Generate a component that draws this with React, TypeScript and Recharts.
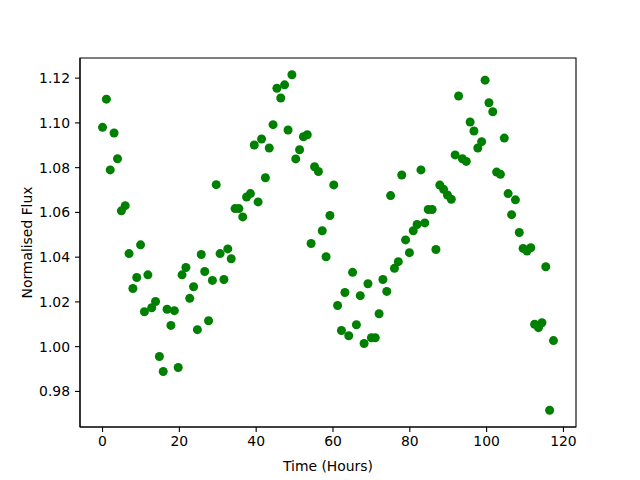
import { ReferenceArea, Scatter, ScatterChart, XAxis, YAxis, Label } from "recharts";

// time of each sample, hours
const HOURS = [
  0, 1.0, 2.0, 3.0, 3.9, 4.9, 5.9, 6.9, 7.9, 8.9, 9.9, 10.9, 11.8, 12.8, 13.8, 14.8,
  15.8, 16.8, 17.8, 18.7, 19.7, 20.7, 21.7, 22.7, 23.7, 24.7, 25.7, 26.6, 27.6, 28.6,
  29.6, 30.6, 31.6, 32.6, 33.5, 34.5, 35.5, 36.5, 37.5, 38.5, 39.5, 40.5, 41.4, 42.4,
  43.4, 44.4, 45.4, 46.4, 47.4, 48.3, 49.3, 50.3, 51.3, 52.3, 53.3, 54.3, 55.2, 56.2,
  57.2, 58.2, 59.2, 60.2, 61.2, 62.2, 63.1, 64.1, 65.1, 66.1, 67.1, 68.1, 69.1, 70.0,
  71.0, 72.0, 73.0, 74.0, 75.0, 76.0, 77.0, 77.9, 78.9, 79.9, 80.9, 81.9, 82.9, 83.9,
  84.8, 85.8, 86.8, 87.8, 88.8, 89.8, 90.8, 91.8, 92.7, 93.7, 94.7, 95.7, 96.7, 97.7,
  98.7, 99.6, 100.6, 101.6, 102.6, 103.6, 104.6, 105.6, 106.5, 107.5, 108.5, 109.5,
  110.5, 111.5, 112.5, 113.5, 114.4, 115.4, 116.4, 117.4,
];

const FLUX = [
  1.098, 1.1106, 1.079, 1.0955, 1.084, 1.0607, 1.063, 1.0416, 1.026, 1.0309, 1.0455,
  1.0156, 1.0321, 1.0174, 1.0202, 0.9956, 0.9889, 1.0167, 1.0095, 1.0161, 0.9907,
  1.0321, 1.0354, 1.0216, 1.0268, 1.0076, 1.0412, 1.0336, 1.0116, 1.0296, 1.0724,
  1.0416, 1.03, 1.0437, 1.0393, 1.0617, 1.0617, 1.058, 1.0669, 1.0684, 1.0901, 1.0647,
  1.0928, 1.0755, 1.0888, 1.0992, 1.1155, 1.1111, 1.117, 1.0968, 1.1215, 1.0839, 1.088,
  1.0938, 1.0947, 1.0461, 1.0804, 1.0783, 1.0518, 1.0402, 1.0586, 1.0723, 1.0184,
  1.0072, 1.0242, 1.0049, 1.0332, 1.0098, 1.0228, 1.0014, 1.0281, 1.004, 1.004, 1.0147,
  1.03, 1.0247, 1.0675, 1.035, 1.038, 1.0767, 1.0477, 1.042, 1.0518, 1.0546, 1.079,
  1.0553, 1.0613, 1.0613, 1.0434, 1.0722, 1.0703, 1.0678, 1.0659, 1.0857, 1.112, 1.084,
  1.0828, 1.1004, 1.0964, 1.0888, 1.0916, 1.1191, 1.109, 1.105, 1.078, 1.077, 1.0932,
  1.0684, 1.059, 1.0656, 1.051, 1.0439, 1.0427, 1.0442, 1.01, 1.0085, 1.0107, 1.0357,
  0.9716, 1.0027,
];

const X_TICKS = [0, 20, 40, 60, 80, 100, 120];
const Y_TICKS = [0.98, 1.0, 1.02, 1.04, 1.06, 1.08, 1.1, 1.12];

const X_DOMAIN: [number, number] = [-5.87, 123.27];
const Y_DOMAIN: [number, number] = [0.9641, 1.129];

const FONT = "'DejaVu Sans', sans-serif";
const TICK_STYLE = { fill: "#000", fontSize: 13.9, fontFamily: FONT };

const data = HOURS.map((t, i) => ({ t, flux: FLUX[i] }));

function Dot(props: any) {
  return <circle cx={props.cx} cy={props.cy} r={4.5} fill="#008000" />;
}

export default function App() {
  return (
    <div style={{ position: "absolute", left: 0, top: 0, width: 640, height: 480, background: "#fff" }}>
      <ScatterChart width={640} height={480} margin={{ top: 58, right: 64, bottom: 9, left: 0 }}>
        <XAxis
          type="number"
          dataKey="t"
          domain={X_DOMAIN}
          ticks={X_TICKS}
          allowDataOverflow
          height={44}
          tick={TICK_STYLE}
          tickSize={5}
          tickMargin={4}
          stroke="#000"
          axisLine={{ stroke: "#000", strokeWidth: 1.1 }}
          tickLine={{ stroke: "#000", strokeWidth: 1.1 }}
        >
          <Label value="Time (Hours)" position="insideBottom" offset={0} style={{ fill: "#000", fontSize: 13.9, fontFamily: FONT }} />
        </XAxis>
        <YAxis
          type="number"
          dataKey="flux"
          domain={Y_DOMAIN}
          ticks={Y_TICKS}
          allowDataOverflow
          width={80}
          tick={TICK_STYLE}
          tickFormatter={(v: number) => v.toFixed(2)}
          tickSize={5}
          tickMargin={5}
          stroke="#000"
          axisLine={{ stroke: "#000", strokeWidth: 1.1 }}
          tickLine={{ stroke: "#000", strokeWidth: 1.1 }}
        >
          <Label
            content={({ viewBox }: any) => {
              const cx = viewBox.x + 27;
              const cy = viewBox.y + viewBox.height / 2;
              return (
                <text
                  x={cx}
                  y={cy}
                  transform={`rotate(-90 ${cx} ${cy})`}
                  textAnchor="middle"
                  dominantBaseline="central"
                  style={{ fill: "#000", fontSize: 13.9, fontFamily: FONT }}
                >
                  Normalised Flux
                </text>
              );
            }}
          />
        </YAxis>
        <ReferenceArea
          x1={X_DOMAIN[0]}
          x2={X_DOMAIN[1]}
          y1={Y_DOMAIN[0]}
          y2={Y_DOMAIN[1]}
          fill="none"
          fillOpacity={0}
          stroke="#000"
          strokeWidth={1.1}
        />
        <Scatter data={data} shape={Dot} isAnimationActive={false} />
      </ScatterChart>
    </div>
  );
}
